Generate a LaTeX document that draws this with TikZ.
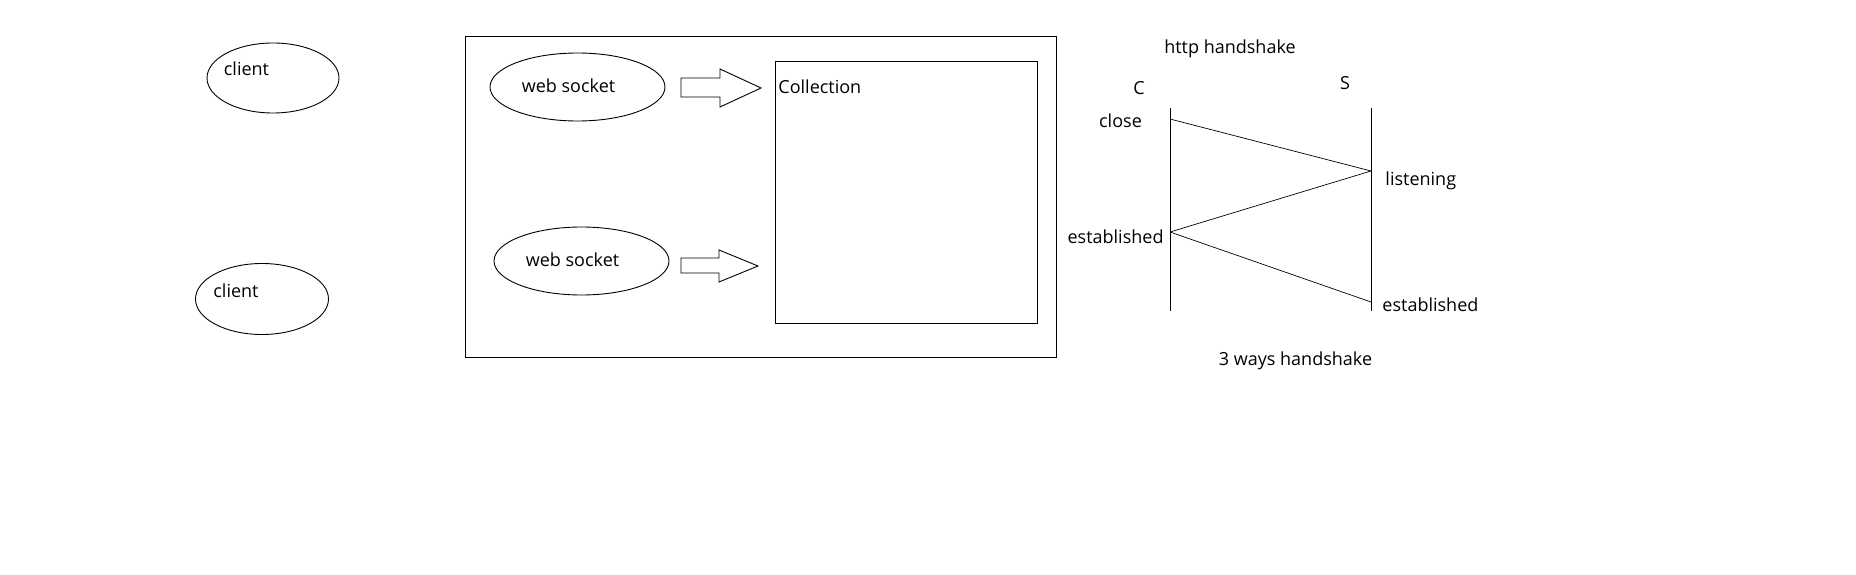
\documentclass[tikz,border=0pt]{standalone}
\usepackage{fontspec}
\setmainfont{Open Sans}
\usetikzlibrary{shapes.geometric}
\begin{document}
\begin{tikzpicture}[x=1pt,y=-1pt,
  line width=0.9pt,
  oval/.style={draw,ellipse,inner sep=0pt},
  lbl/.style={inner sep=0pt,font=\fontsize{18}{21}\selectfont},
  box/.style={draw,rectangle,inner sep=0pt},
  blockarrow/.style={draw,line join=miter},
  msg/.style={draw,line width=0.7pt}]
\useasboundingbox[fill=white] (0,0) rectangle (1856,575);
% clients
\node[oval,minimum width=132pt,minimum height=70pt] (c1) at (273,78) {};
\node[lbl] (c1t) at (246.5,69) {client};
\node[oval,minimum width=133pt,minimum height=71pt] (c2) at (262,299) {};
\node[lbl] (c2t) at (236,291) {client};
% server box
\node[box,minimum width=591pt,minimum height=321pt] (srv) at (760.5,196.5) {};
\node[oval,minimum width=175pt,minimum height=68pt] (ws1) at (577.5,87) {};
\node[lbl] (ws1t) at (568.5,86) {web socket};
\node[oval,minimum width=175pt,minimum height=68pt] (ws2) at (581.5,261) {};
\node[lbl] (ws2t) at (572.5,260) {web socket};
\node[box,minimum width=262pt,minimum height=262pt] (col) at (906,192) {};
\node[lbl,anchor=west] (colt) at (778,87) {Collection};
% block arrows
\draw[blockarrow] (681,78) -- (720,78) -- (720,69) -- (761,88) -- (720,107) -- (720,97) -- (681,97) -- cycle;
\draw[blockarrow] (681,258) -- (719,258) -- (719,250) -- (758,266) -- (719,282) -- (719,273) -- (681,273) -- cycle;
% handshake
\node[lbl] (http) at (1230,49) {http handshake};
\node[lbl] (C) at (1139,88) {C};
\node[lbl] (S) at (1345,83) {S};
\coordinate (ctop) at (1170,108);
\coordinate (cbot) at (1170,311);
\coordinate (stop) at (1371,108);
\coordinate (sbot) at (1371,311);
\draw (ctop) -- (cbot);
\draw (stop) -- (sbot);
\coordinate (p1) at (1170,119);
\coordinate (p2) at (1371,171);
\coordinate (p3) at (1170,232);
\coordinate (p4) at (1371,302);
\draw[msg] (p1) -- (p2);
\draw[msg] (p2) -- (p3);
\draw[msg] (p3) -- (p4);
\node[lbl] (close) at (1120.5,121) {close};
\node[lbl,anchor=west] (listen) at (1385,181) {listening};
\node[lbl,anchor=east] (estc) at (1164,237) {established};
\node[lbl,anchor=west] (ests) at (1382,305) {established};
\node[lbl] (three) at (1295.5,361) {3 ways handshake};
\end{tikzpicture}
\end{document}
